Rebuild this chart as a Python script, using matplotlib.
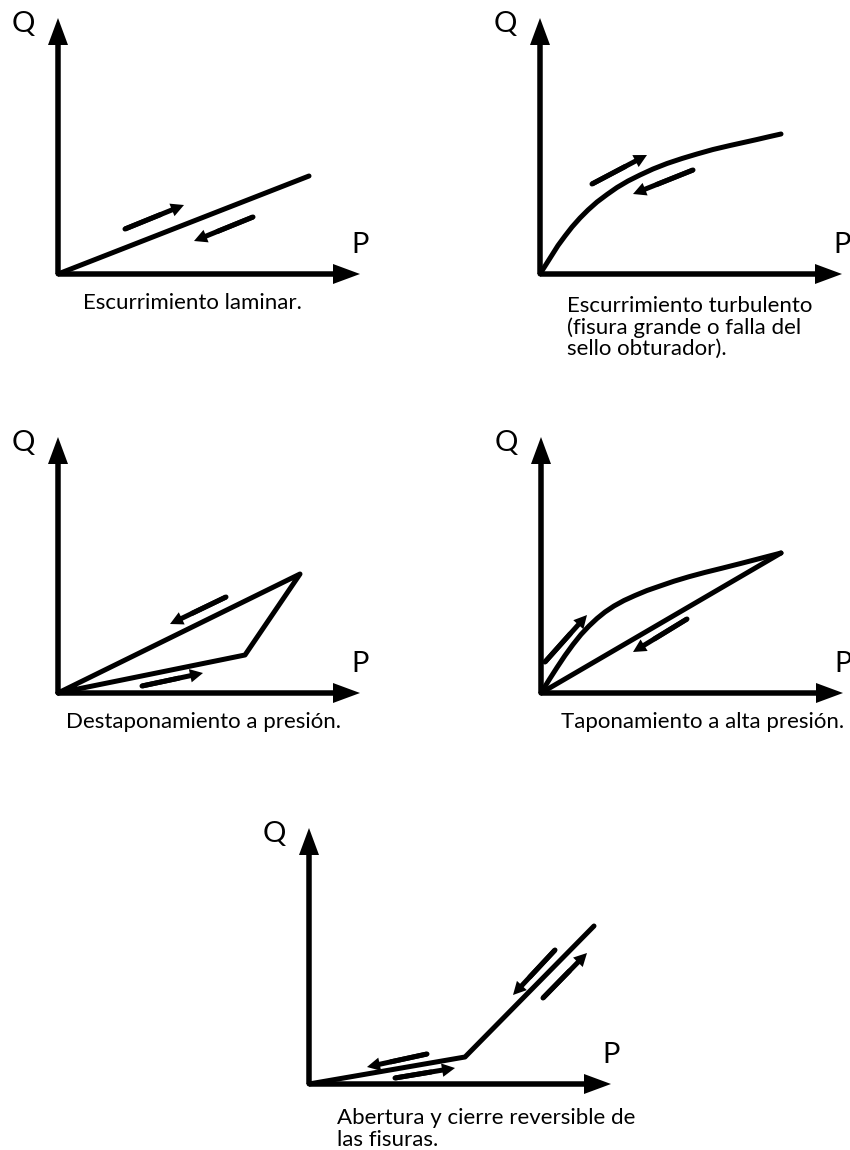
import matplotlib
matplotlib.use("Agg")
import matplotlib.pyplot as plt

W, H = 850, 1150
FONT = ["Lato", "DejaVu Sans"]
plt.rcParams['font.family'] = FONT

# ---------------- data (panel-local units: P to the right, Q upward) ----------------
axis_len_Q = 256
axis_len_P = 302

# Panel 1: Escurrimiento laminar
p1_P = [0, 251]
p1_Q = [0, 98]
p1_arrows = [((67, 45), (126, 69)), ((195, 57), (136, 33))]
p1_caption = ["Escurrimiento laminar."]

# Panel 2: Escurrimiento turbulento
p2_P = [0, 6, 12, 18, 25, 32, 40, 48, 57, 67, 77, 88, 100, 113, 127, 142,
        157, 173, 190, 204, 217, 229, 241]
p2_Q = [0, 9.5, 19, 28.5, 38, 47, 56, 64, 72, 79.5, 86.5, 93, 99, 105, 110.5,
        115.5, 120, 124.5, 128.5, 131.6, 134.5, 137.3, 140]
p2_arrows = [((52, 90), (107, 119)), ((153, 104), (93, 80))]
p2_caption = ["Escurrimiento turbulento", "(fisura grande o falla del", "sello obturador)."]

# Panel 3: Destaponamiento a presión
p3_P = [0, 187, 242, 0]
p3_Q = [0, 38, 119, 0]
p3_arrows = [((84, 7), (145, 20)), ((168, 96), (112, 69))]
p3_caption = ["Destaponamiento a presión."]

# Panel 4: Taponamiento a alta presión
p4_curve_P = [0, 8, 16, 24, 32, 40, 48, 56, 64, 73, 83, 94, 106, 119, 133,
              148, 164, 181, 200, 220, 240]
p4_curve_Q = [0, 13, 25.5, 37.5, 48.5, 58.5, 67, 74.5, 81, 87, 92.5, 97.5,
              102.5, 107, 111.8, 116.3, 120.6, 124.8, 129.6, 134.8, 140]
p4_line_P = [0, 240]
p4_line_Q = [0, 140]
p4_arrows = [((4, 31), (46, 78)), ((146, 74), (92, 41))]
p4_caption = ["Taponamiento a alta presión."]

# Panel 5: Abertura y cierre reversible de las fisuras
p5_P = [0, 156, 285]
p5_Q = [0, 27, 158]
p5_arrows = [((118, 30), (58, 17)), ((86, 6), (146, 16)),
             ((246, 134), (204, 89)), ((234, 86), (278, 131))]
p5_caption = ["Abertura y cierre reversible de", "las fisuras."]

# ---------------- layout ----------------
fig = plt.figure(figsize=(W / 100, H / 100), dpi=100)
fig.patch.set_facecolor("white")

XL, XR, YB, YT = -60, 320, -90, 265
LW = 3.6


def make_panel(ox, oy):
    rect = [(ox + XL) / W, (H - (oy - YB)) / H, (XR - XL) / W, (YT - YB) / H]
    ax = fig.add_axes(rect)
    ax.set_xlim(XL, XR)
    ax.set_ylim(YB, YT)
    ax.axis("off")
    ax.arrow(0, 0, 0, axis_len_Q, width=5.5, head_width=20, head_length=27,
             length_includes_head=True, color="black", lw=0, clip_on=False)
    ax.arrow(0, 0, axis_len_P, 0, width=5.5, head_width=20, head_length=27,
             length_includes_head=True, color="black", lw=0, clip_on=False)
    ax.text(-35, 250, "Q", fontsize=21, ha="center", va="center", clip_on=False)
    ax.text(302, 29, "P", fontsize=21, ha="center", va="center", clip_on=False)
    return ax


def draw_line(ax, P, Q):
    ax.plot(P, Q, color="black", lw=LW, solid_capstyle="round",
            solid_joinstyle="round", clip_on=False)


def draw_arrows(ax, arrows):
    for (x0, y0), (x1, y1) in arrows:
        ax.plot([x0, x0 + (x1 - x0) * 0.6], [y0, y0 + (y1 - y0) * 0.6],
                color="black", lw=LW, solid_capstyle="round", clip_on=False)
        ax.arrow(x0, y0, x1 - x0, y1 - y0, width=5, head_width=13.5,
                 head_length=13, length_includes_head=True, color="black",
                 lw=0, clip_on=False)


def draw_caption(ax, lines, x, y, ha, step=21.5, size=16):
    for i, s in enumerate(lines):
        ax.text(x, y - i * step, s, fontsize=size, ha=ha, va="center",
                clip_on=False)


ax1 = make_panel(58, 274)
draw_line(ax1, p1_P, p1_Q)
draw_arrows(ax1, p1_arrows)
draw_caption(ax1, p1_caption, 134, -29, "center")

ax2 = make_panel(540, 274)
draw_line(ax2, p2_P, p2_Q)
draw_arrows(ax2, p2_arrows)
draw_caption(ax2, p2_caption, 27, -32, "left")

ax3 = make_panel(58, 693)
draw_line(ax3, p3_P, p3_Q)
draw_arrows(ax3, p3_arrows)
draw_caption(ax3, p3_caption, 145, -29, "center")

ax4 = make_panel(541, 693)
draw_line(ax4, p4_curve_P, p4_curve_Q)
draw_line(ax4, p4_line_P, p4_line_Q)
draw_arrows(ax4, p4_arrows)
draw_caption(ax4, p4_caption, 162, -29, "center")

ax5 = make_panel(309, 1084)
draw_line(ax5, p5_P, p5_Q)
draw_arrows(ax5, p5_arrows)
draw_caption(ax5, p5_caption, 28, -34, "left")

fig.savefig("out.png", dpi=100, facecolor="white")
